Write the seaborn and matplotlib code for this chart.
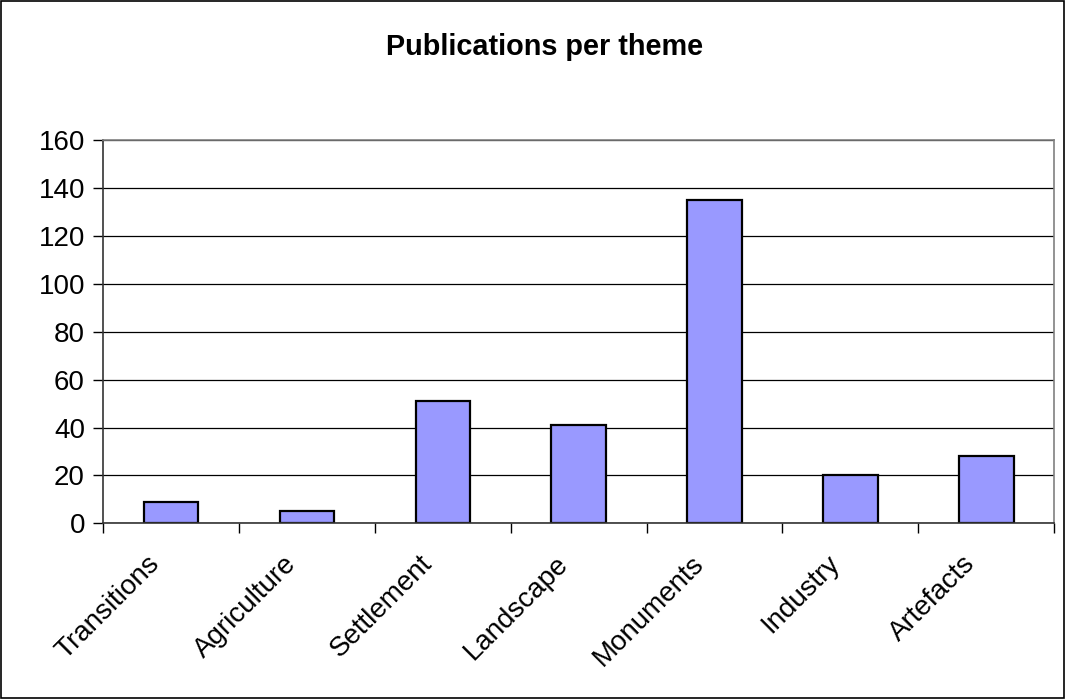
import matplotlib
matplotlib.use("Agg")
import matplotlib.pyplot as plt
import matplotlib.transforms as mtransforms
import seaborn as sns
import numpy as np
import pandas as pd
from matplotlib.patches import Rectangle
from matplotlib.ticker import FixedLocator

categories = ["Transitions", "Agriculture", "Settlement", "Landscape", "Monuments", "Industry", "Artefacts"]
values = [9, 5, 51, 41, 135, 20, 28]
yticks = [0, 20, 40, 60, 80, 100, 120, 140, 160]
title = "Publications per theme"

sns.set_theme(style="white")
plt.rcParams['font.family'] = ['Liberation Sans', 'DejaVu Sans']
plt.rcParams['text.color'] = 'black'

df = pd.DataFrame({"theme": categories, "count": values})

fig = plt.figure(figsize=(10.66, 6.99), dpi=100)
ax = fig.add_axes([0.0966, 0.2513, 0.989 - 0.0966, 0.799 - 0.2513])

sns.barplot(data=df, x="theme", y="count", ax=ax, color="#9999FF",
            edgecolor="black", linewidth=1.6, width=0.4, saturation=1)

ax.set_xlim(-0.5, len(categories) - 0.5)
ax.set_ylim(0, 160)
ax.set_yticks(yticks)
ax.set_yticklabels([str(t) for t in yticks], fontsize=20, color="black")
ax.yaxis.grid(True, color="black", linewidth=0.9)
ax.set_axisbelow(True)

ax.set_xticks(range(len(categories)))
ax.set_xticklabels(categories, rotation=45, ha="right", rotation_mode="anchor",
                   fontsize=20, color="black")
ax.tick_params(axis="x", which="major", length=0, pad=8)
offset = mtransforms.ScaledTranslation(-0.24, -0.16, fig.dpi_scale_trans)
for lab in ax.get_xticklabels():
    lab.set_transform(lab.get_transform() + offset)
ax.xaxis.set_minor_locator(FixedLocator(np.arange(-0.5, len(categories) + 0.5, 1)))
ax.tick_params(axis="x", which="minor", length=7, width=1, color="black", bottom=True, direction="out")
ax.tick_params(axis="y", which="major", length=7, width=1, color="black", left=True, direction="out", pad=6)

for side in ["top", "right"]:
    ax.spines[side].set_color("#808080")
    ax.spines[side].set_linewidth(1.2)
for side in ["left", "bottom"]:
    ax.spines[side].set_color("#333333")
    ax.spines[side].set_linewidth(1.2)

ax.set_xlabel("")
ax.set_ylabel("")

fig.text(545 / 1066, 1 - 47 / 699, title, ha="center", va="center", fontsize=20.8,
         fontweight="bold", color="black")

fig.patches.append(Rectangle((0.001, 0.001), 0.997, 0.997, transform=fig.transFigure,
                             fill=False, edgecolor="black", linewidth=1.2))

fig.savefig("out.png", dpi=100)
